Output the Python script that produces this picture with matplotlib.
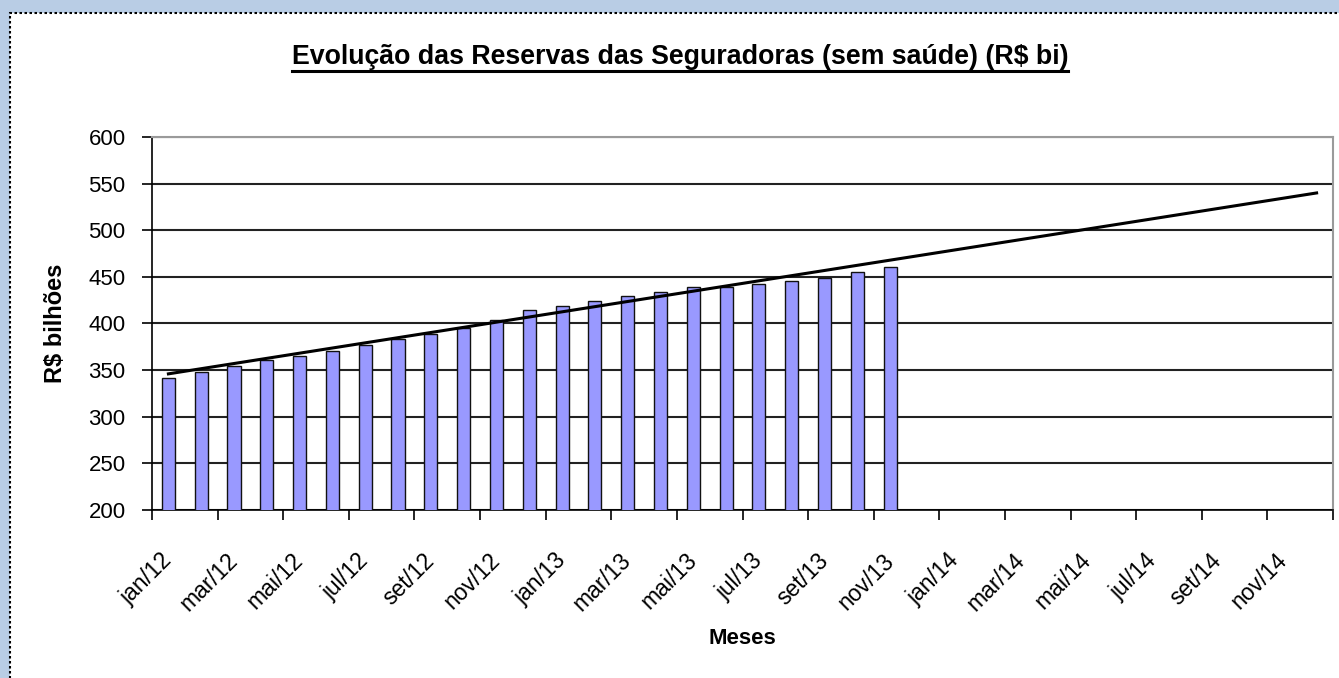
import matplotlib
matplotlib.use("Agg")
import matplotlib.pyplot as plt
import matplotlib.patches as mpatches
from matplotlib.lines import Line2D
import numpy as np

plt.rcParams['font.family'] = ['Liberation Sans', 'DejaVu Sans']

# ---- data ----
month_abbr = ["jan", "fev", "mar", "abr", "mai", "jun", "jul", "ago", "set", "out", "nov", "dez"]
years = ["12", "13", "14"]
months = [f"{m}/{y}" for y in years for m in month_abbr]  # jan/12 .. dez/14

reservas = [342, 348, 354, 361, 365, 371, 377, 383, 389, 395, 404,
            414, 419, 424, 430, 434, 439, 439, 442, 446, 449, 455, 461]  # jan/12 .. nov/13

trend_months = ["jan/12", "dez/14"]
trend_values = [346, 540]

title = "Evolução das Reservas das Seguradoras (sem saúde) (R$ bi)"
ylabel = "R$ bilhões"
xlabel = "Meses"
yticks = [200, 250, 300, 350, 400, 450, 500, 550, 600]

# ---- figure ----
W, H = 1339, 678
fig = plt.figure(figsize=(W / 100, H / 100), dpi=100)
fig.patch.set_facecolor("#B9CDE5")

# white chart area with dotted border
frame = mpatches.Rectangle((10 / W, -0.1), 1.2, 1.1 - 13 / H, transform=fig.transFigure,
                           facecolor="white", edgecolor="black", linewidth=1.5,
                           linestyle=(0, (1.2, 1.2)), zorder=-10)
fig.add_artist(frame)

L, R, B, T = 152, 1333, 510, 137
ax = fig.add_axes([L / W, 1 - B / H, (R - L) / W, (B - T) / H])
ax.set_zorder(5)
ax.set_facecolor("white")

x_all = np.arange(len(months))
x_bars = x_all[:len(reservas)]
ax.bar(x_bars, reservas, width=0.4, color="#9999FF", edgecolor="#111111", linewidth=1.0, zorder=3)

tx = [months.index(m) for m in trend_months]
ax.plot(tx, trend_values, color="black", linewidth=2.2, zorder=4)

ax.set_xlim(-0.5, len(months) - 0.5)
ax.set_ylim(200, 600)
ax.set_yticks(yticks)
ax.set_yticklabels([str(v) for v in yticks], fontsize=16)
ax.yaxis.grid(True, color="#222222", linewidth=1.5, zorder=1)
ax.set_axisbelow(True)
ax.tick_params(axis="y", direction="out", length=7, width=1.2, pad=12)

# major ticks at category boundaries every 2 months, no labels
ax.set_xticks(np.arange(-0.5, len(months), 2))
ax.set_xticklabels([])
ax.tick_params(axis="x", which="major", direction="out", length=7, width=1.2)
# minor ticks at category centres carrying the labels
lab_pos = x_all[::2]
ax.set_xticks(lab_pos, minor=True)
ax.set_xticklabels([months[i] for i in lab_pos], minor=True, rotation=45, ha="right",
                   va="center", rotation_mode="anchor", fontsize=16.5)
ax.tick_params(axis="x", which="minor", length=0, pad=34)

for s in ["top", "right"]:
    ax.spines[s].set_color("#9a9a9a")
    ax.spines[s].set_linewidth(1.5)
for s in ["left", "bottom"]:
    ax.spines[s].set_color("black")
    ax.spines[s].set_linewidth(1.2)

ax.set_ylabel(ylabel, fontsize=17, fontweight="bold", va="center", ha="center")
ax.yaxis.set_label_coords((55 - L) / (R - L), 0.5)
ax.set_xlabel(xlabel, fontsize=16, fontweight="bold", va="center", ha="center")
ax.xaxis.set_label_coords(0.5, -(638 - B) / (B - T))

t = fig.text(680 / W, 1 - 57 / H, title, ha="center", va="center", fontsize=19.3, fontweight="bold")
fig.canvas.draw()
bb = t.get_window_extent()
uy = bb.y0 - 1
fig.add_artist(Line2D([bb.x0 / W, bb.x1 / W], [uy / H, uy / H], transform=fig.transFigure,
                      color="black", linewidth=2.2))

fig.savefig("out.png", dpi=100, facecolor=fig.get_facecolor())
